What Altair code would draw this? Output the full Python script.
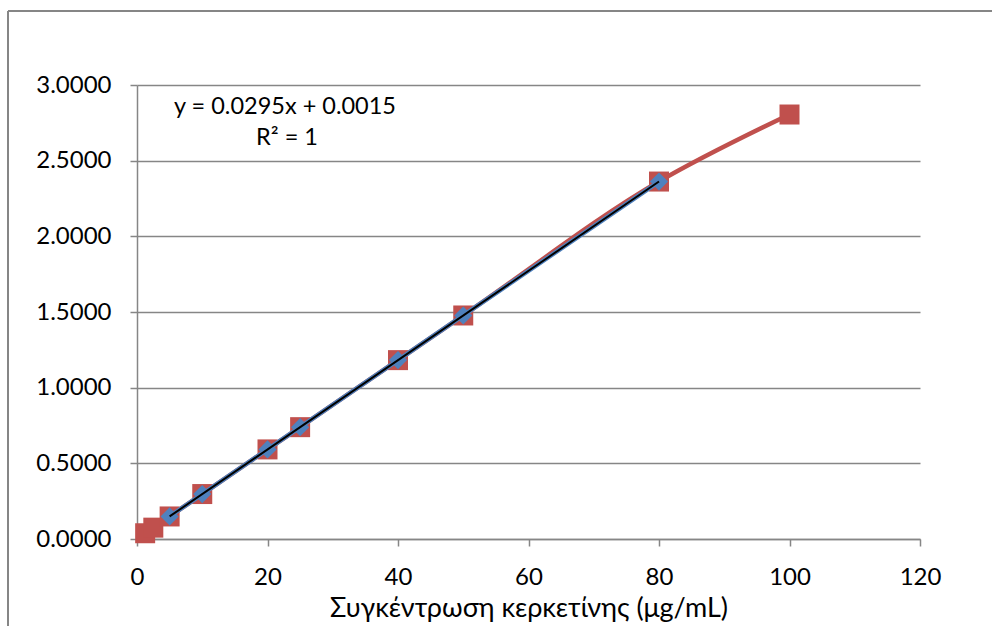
import altair as alt
import pandas as pd

# --- data ---
conc_all = [1.25, 2.5, 5, 10, 20, 25, 40, 50, 80, 100]
abs_all = [0.038, 0.075, 0.149, 0.297, 0.592, 0.739, 1.182, 1.477, 2.362, 2.805]
conc_fit = [5, 10, 20, 25, 40, 50, 80]
abs_fit = [0.149, 0.297, 0.592, 0.739, 1.182, 1.477, 2.362]
x_ticks = [0, 20, 40, 60, 80, 100, 120]
y_ticks = [0.0, 0.5, 1.0, 1.5, 2.0, 2.5, 3.0]
eq_lines = ["y = 0.0295x + 0.0015", "R² = 1"]
x_title = "Συγκέντρωση κερκετίνης (μg/mL)"

RED = "#C0504D"
BLUE = "#4F81BD"
GRID = "#868686"
FONT = "Lato, Open Sans, sans-serif"

df_all = pd.DataFrame({"x": conc_all, "y": abs_all})
df_fit = pd.DataFrame({"x": conc_fit, "y": abs_fit})

xs = alt.Scale(domain=[0, 120], nice=False, zero=False)
ys = alt.Scale(domain=[0, 3], nice=False)

x_enc = alt.X("x:Q", scale=xs, title=x_title,
              axis=alt.Axis(values=x_ticks, grid=False, format="d", labelFlush=False))
y_enc = alt.Y("y:Q", scale=ys, title=None,
              axis=alt.Axis(values=y_ticks, format=".4f", grid=True, labelFlush=False))

base_all = alt.Chart(df_all).encode(x=x_enc, y=y_enc)
base_fit = alt.Chart(df_fit).encode(x=x_enc, y=y_enc)

red_line = base_all.mark_line(color=RED, strokeWidth=4.5, interpolate="monotone")
red_pts = base_all.mark_point(shape="square", filled=True, size=400, color=RED, opacity=1)
blue_line = base_fit.mark_line(color=BLUE, strokeWidth=4.5)
blue_pts = base_fit.mark_point(shape="diamond", filled=True, size=330, color=BLUE, opacity=1)
trend = (
    alt.Chart(df_fit)
    .transform_regression("x", "y", method="linear", extent=[5, 80])
    .mark_line(color="black", strokeWidth=2)
    .encode(x=alt.X("x:Q", scale=xs), y=alt.Y("y:Q", scale=ys))
)

eq_df = pd.DataFrame({"t": eq_lines, "px": [148, 150], "py": [22, 53]})
eq_text = alt.Chart(eq_df).mark_text(
    font=FONT, fontSize=23.5, color="black", align="center", baseline="middle"
).encode(x=alt.X("px:Q", scale=None), y=alt.Y("py:Q", scale=None), text="t:N")

dummy = pd.DataFrame({"a": [0]})
frame_top = alt.Chart(dummy).mark_rule(color=GRID, strokeWidth=2).encode(
    x=alt.value(-129), x2=alt.value(1300), y=alt.value(-74))
frame_left = alt.Chart(dummy).mark_rule(color=GRID, strokeWidth=2).encode(
    x=alt.value(-129), y=alt.value(-74), y2=alt.value(900))

chart = alt.layer(
    frame_top, frame_left, red_line, red_pts, blue_line, blue_pts, trend, eq_text
).properties(
    width=783, height=454,
    autosize=alt.AutoSizeParams(type="none"),
    padding={"left": 137, "top": 85, "right": 72, "bottom": 87},
    background="white",
).configure_view(
    stroke=None
).configure_axis(
    domainColor=GRID, domainWidth=1.5,
    tickColor=GRID, tickWidth=1.5, tickSize=7,
    gridColor=GRID, gridWidth=1.5,
    labelFont=FONT, labelFontSize=24, labelColor="black",
    titleFont=FONT, titleFontSize=27, titleColor="black", titleFontWeight="normal",
).configure_axisX(
    labelPadding=19, titlePadding=6,
).configure_axisY(
    labelPadding=19,
)

chart.save("out.html", embed_options={"renderer": "svg", "actions": False})
